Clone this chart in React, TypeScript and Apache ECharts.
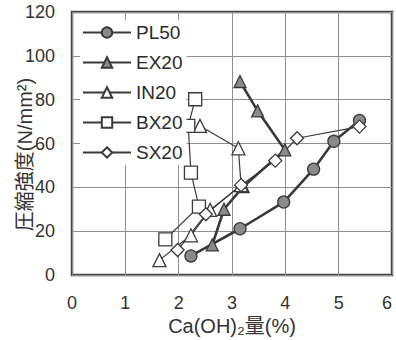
import React, { useEffect, useRef } from "react";
import * as echarts from "echarts";

const xTicks = [0, 1, 2, 3, 4, 5, 6];
const yTicks = [0, 20, 40, 60, 80, 100, 120];

const PL50: [number, number][] = [
  [2.23, 8.7], [3.15, 21.1], [3.97, 33.3], [4.53, 48.3], [4.91, 61.0], [5.39, 70.5],
];
const EX20: [number, number][] = [
  [2.63, 13.7], [2.85, 30.0], [3.21, 40.3], [3.99, 57.1], [3.48, 74.9], [3.15, 88.3],
];
const IN20: [number, number][] = [
  [1.64, 6.8], [2.23, 18.1], [2.59, 29.7], [3.17, 41.0], [3.12, 57.8], [2.40, 68.0],
];
const BX20: [number, number][] = [
  [1.75, 16.3], [2.38, 31.2], [2.23, 46.7], [2.18, 68.0], [2.31, 80.2],
];
const SX20: [number, number][] = [
  [1.98, 11.4], [2.51, 27.7], [3.17, 41.0], [3.81, 52.2], [4.22, 62.4], [5.39, 67.7],
];

const FONT = "'Liberation Sans', Arial, 'Noto Sans CJK JP', sans-serif";

export default function App() {
  const ref = useRef<HTMLDivElement>(null);
  useEffect(() => {
    if (!ref.current) return;
    const chart = echarts.init(ref.current, null, { renderer: "svg" });
    const dark = "#3a3a3a";
    const fillGray = "#8a8a8a";
    const mk = (
      name: string,
      data: [number, number][],
      symbol: string,
      size: number,
      width: number,
      fill: string
    ) => ({
      name,
      type: "line",
      data,
      symbol,
      symbolSize: size,
      lineStyle: { color: dark, width },
      itemStyle: { color: fill, borderColor: dark, borderWidth: 1.3 },
      z: 3,
    });
    chart.setOption({
      animation: false,
      backgroundColor: "#fff",
      textStyle: { fontFamily: FONT },
      grid: {
        left: 72,
        right: 4,
        top: 12,
        bottom: 65,
        outerBoundsMode: "none",
        containLabel: false,
        show: true,
        borderColor: "#444",
        borderWidth: 2.5,
        backgroundColor: "transparent",
      },
      legend: {
        orient: "vertical",
        left: 80,
        top: 20,
        itemWidth: 48,
        itemHeight: 13,
        itemGap: 11,
        backgroundColor: "#fff",
        padding: [3, 4, 3, 2],
        textStyle: { fontSize: 19, color: "#2a2a2a", fontFamily: FONT },
        data: ["PL50", "EX20", "IN20", "BX20", "SX20"],
      },
      xAxis: {
        type: "value",
        min: xTicks[0],
        max: xTicks[xTicks.length - 1],
        interval: 1,
        axisLine: { show: false },
        axisTick: { show: false },
        axisLabel: { fontSize: 18, color: "#333", margin: 19, fontFamily: FONT, alignMaxLabel: "right" },
        splitLine: { show: true, lineStyle: { color: "#909090", width: 1 } },
        name: "Ca(OH)₂量(%)",
        nameLocation: "middle",
        nameGap: 41,
        nameMoveOverlap: false,
        nameTextStyle: { fontSize: 20, color: "#333", fontFamily: FONT },
      },
      yAxis: {
        type: "value",
        min: yTicks[0],
        max: yTicks[yTicks.length - 1],
        interval: 20,
        axisLine: { show: false },
        axisTick: { show: false },
        axisLabel: { fontSize: 18, color: "#333", margin: 17, fontFamily: FONT },
        splitLine: { show: true, lineStyle: { color: "#909090", width: 1 } },
        name: "圧縮強度(N/mm²)",
        nameLocation: "middle",
        nameGap: 37,
        nameMoveOverlap: false,
        nameTextStyle: { fontSize: 20, color: "#333", fontFamily: FONT, padding: [0, 22, 0, 0] },
      },
      series: [
        mk("PL50", PL50, "circle", 12, 2.6, fillGray),
        mk("EX20", EX20, "triangle", 12, 2.6, fillGray),
        mk("IN20", IN20, "triangle", 13, 1.2, "#fff"),
        mk("BX20", BX20, "rect", 13, 1.2, "#fff"),
        mk("SX20", SX20, "diamond", 13, 1.2, "#fff"),
      ],
    });
    return () => chart.dispose();
  }, []);
  return <div ref={ref} style={{ width: 396, height: 340, position: "absolute", left: 0, top: 0 }} />;
}
